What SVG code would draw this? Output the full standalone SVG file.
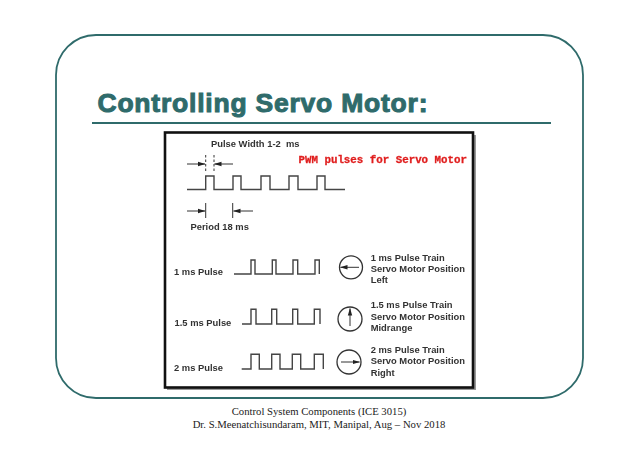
<svg xmlns="http://www.w3.org/2000/svg" width="638" height="451" viewBox="0 0 638 451">
<defs>
<filter id="soft" x="-5%" y="-5%" width="110%" height="110%"><feGaussianBlur stdDeviation="0.45"/></filter>
<marker id="ah" markerWidth="8" markerHeight="6" refX="7" refY="3" orient="auto" markerUnits="userSpaceOnUse"><path d="M0 0.8L7.500 3L0 5.200Z" fill="#222"/></marker>
</defs>
<style>
.lab{font-family:"Liberation Sans",Arial,sans-serif;font-weight:700;font-size:9.4px;fill:#333}
.tr{fill:none;stroke:#444;stroke-width:1.4}
.ar{fill:none;stroke:#333;stroke-width:1;marker-end:url(#ah)}
.tk{fill:none;stroke:#333;stroke-width:1}
.c{fill:#fff;stroke:#333;stroke-width:1.3}
.foot{font-family:"Liberation Serif","Times New Roman",serif;font-size:10.7px;fill:#222;text-anchor:middle}
</style>
<rect width="638" height="451" fill="#fff"/>
<rect id="frame" x="56" y="35" width="527" height="363" rx="40" ry="40" fill="none" stroke="#2f6b6b" stroke-width="1.8"/>
<text id="title" x="97.500" y="112" textLength="330" lengthAdjust="spacing" font-family="'Liberation Sans',Arial,sans-serif" font-weight="700" font-size="26.500" fill="#2f6b6b" stroke="#2f6b6b" stroke-width="1">Controlling Servo Motor:</text>
<line x1="92" y1="123" x2="551" y2="123" stroke="#2f6b6b" stroke-width="2"/>
<rect x="167" y="135" width="309" height="255" fill="#999" filter="url(#soft)"/>
<rect id="panel" x="165" y="132.500" width="308" height="255" fill="#fff" stroke="#111" stroke-width="2.600"/>
<g id="signals" filter="url(#soft)">
<path class="tr" d="M187 189.500H205.700V176H214V189.500H233V176H241V189.500H261V176H270V189.500H289V176H298V189.500H317V176H325V189.500H345"/>
<path class="tr" d="M234 274H251V260H255V274H272.300V260H276V274H293V260H297.700V274H315V260H319.300V274"/>
<path class="tr" d="M242 324H251V309.300H256V324H271.700V309.300H276.700V324H292.700V309.300H297.700V324H314.300V309.300H320V324"/>
<path class="tr" d="M241.700 369H251V354.300H259.300V369H271.700V354.300H280V369H292.300V354.300H300.700V369H314.300V354.300H323.300V369"/>
<path class="tk" stroke-dasharray="2.500 2" d="M205.700 155V173M214 155V173"/>
<path class="ar" d="M187 164H205"/>
<path class="ar" d="M233 164H214.500"/>
<path class="tk" d="M205.700 203V218M232.700 203V218"/>
<path class="ar" d="M187 211H205"/>
<path class="ar" d="M253 211H233.500"/>
<circle class="c" cx="351" cy="267.300" r="11.500"/>
<path class="ar" d="M359 267.300H340.500"/>
<circle class="c" cx="350" cy="319" r="12"/>
<path class="ar" d="M350 326V308.500"/>
<circle class="c" cx="349" cy="362" r="12"/>
<path class="ar" d="M341 362H359.500"/>
</g>
<g id="labels" filter="url(#soft)">
<text class="lab" x="211" y="147" xml:space="preserve">Pulse Width 1-2  ms</text>
<text class="lab" x="190.500" y="230">Period 18 ms</text>
<text x="298.500" y="163" font-family="'Liberation Mono','Courier New',monospace" font-weight="700" font-size="10.800" fill="#e01f1f" stroke="#e01f1f" stroke-width="0.300">PWM pulses for Servo Motor</text>
<text class="lab" x="174" y="275">1 ms Pulse</text>
<text class="lab" x="174.500" y="325.700">1.5 ms Pulse</text>
<text class="lab" x="174" y="370.700">2 ms Pulse</text>
<text class="lab" x="370.700" y="261">1 ms Pulse Train</text>
<text class="lab" x="370.700" y="272">Servo Motor Position</text>
<text class="lab" x="370.700" y="283">Left</text>
<text class="lab" x="370.700" y="308.300">1.5 ms Pulse Train</text>
<text class="lab" x="370.700" y="319.500">Servo Motor Position</text>
<text class="lab" x="370.700" y="330.500">Midrange</text>
<text class="lab" x="370.700" y="353">2 ms Pulse Train</text>
<text class="lab" x="370.700" y="364">Servo Motor Position</text>
<text class="lab" x="370.700" y="375.500">Right</text>
</g>
<text class="foot" x="319" y="415">Control System Components (ICE 3015)</text>
<text class="foot" x="319" y="427.700">Dr. S.Meenatchisundaram, MIT, Manipal, Aug – Nov 2018</text>
</svg>
